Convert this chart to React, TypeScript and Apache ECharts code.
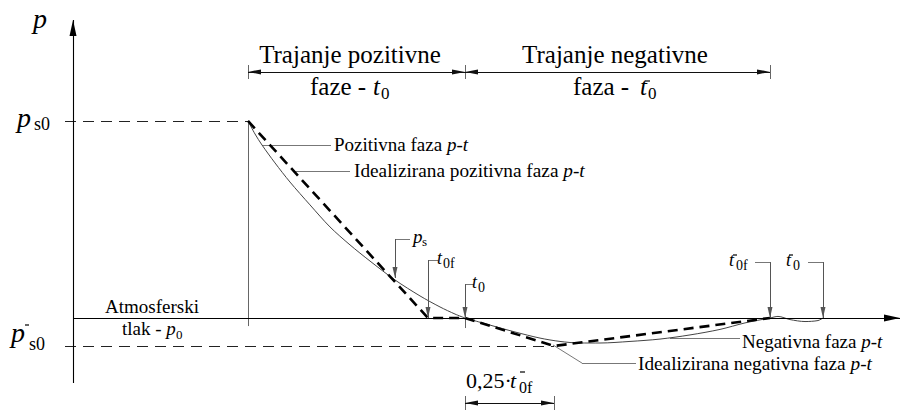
import React, { useEffect, useRef } from 'react';
import * as echarts from 'echarts';

// ---- key values (time in arbitrary units, pressure relative to p_s0) ----
const T_PEAK = 17.5;
const T_0F = 35.5;
const T_0 = 39.2;
const T_NEG_PEAK = 48.1;
const T_0F_NEG = 69.7;
const T_0_NEG = 75.0;
const P_S0 = 1.0;
const P_S0_NEG = -0.142;

// real positive phase p-t
const posCurveT = [17.5, 18.2, 18.9, 20.2, 21.7, 23.7, 25.7, 27.7, 29.7, 32.2, 34.7, 36.7, 38.2, 39.2];
const posCurveP = [1.0, 0.934, 0.878, 0.787, 0.69, 0.574, 0.462, 0.371, 0.289, 0.193, 0.112, 0.056, 0.02, 0];
// real negative phase p-t (with small tail)
const negCurveT = [39.2, 41.7, 44.2, 46.7, 48.7, 50.7, 52.7, 55.7, 58.7, 61.7, 64.7, 67.2, 69.7, 70.5, 71.7, 73.2, 74.5, 75.0];
const negCurveP = [0, -0.036, -0.071, -0.102, -0.119, -0.127, -0.127, -0.119, -0.107, -0.086, -0.058, -0.025, 0, 0.008, -0.008, -0.018, -0.013, 0];
// idealised phases
const idealPosT = [T_PEAK, T_0F, T_0];
const idealPosP = [P_S0, 0, 0];
const idealNegT = [T_0, T_NEG_PEAK, T_0F_NEG];
const idealNegP = [0, P_S0_NEG, 0];

// axis extents
const X_MIN = -7.3;
const X_MAX = 82.9;
const Y_MIN = -0.467;
const Y_MAX = 1.614;
const AXIS_T_END = 82.7;
const AXIS_P_TOP = 1.513;
const AXIS_P_BOTTOM = -0.33;
const REF_T_START = -0.8;
const DIM_TOP_P = 1.249;
const DIM_BOTTOM_P = -0.432;

const FONT = 'Liberation Serif, Times New Roman, serif';
const ARROW = 'path://M5,0 L5,0 M5,24 L10,48 L0,48 Z';

const zip = (a: number[], b: number[]) => a.map((v, i) => [v, b[i]]);
const seg = (a: number[], b: number[]) => ({ coords: [a, b] });

function txt(x: number, baseline: number, s: string, size: number, italic = false, align = 'left') {
  return {
    type: 'text',
    x,
    y: baseline - 0.34 * size,
    silent: true,
    z: 100,
    style: {
      text: s,
      font: `${italic ? 'italic ' : ''}${size}px ${FONT}`,
      fill: '#000',
      align,
      textAlign: align,
      verticalAlign: 'middle',
      textVerticalAlign: 'middle',
    },
  };
}

function richTxt(x: number, baseline: number, plain: string, ital: string, size: number) {
  return {
    type: 'text',
    x,
    y: baseline - 0.34 * size,
    silent: true,
    z: 100,
    style: {
      text: `{r|${plain}}{i|${ital}}`,
      font: `${size}px ${FONT}`,
      fill: '#000',
      align: 'left',
      textAlign: 'left',
      verticalAlign: 'middle',
      textVerticalAlign: 'middle',
      rich: {
        r: { fontSize: size, fontFamily: FONT, fill: '#000', color: '#000' },
        i: { fontSize: size, fontFamily: FONT, fontStyle: 'italic', fill: '#000', color: '#000' },
      },
    },
  };
}

// small superscript minus bar
function bar(x: number, y: number, w: number) {
  return {
    type: 'line',
    silent: true,
    z: 100,
    shape: { x1: x, y1: y, x2: x + w, y2: y },
    style: { stroke: '#000', lineWidth: 1.2 },
  };
}

export default function App() {
  const ref = useRef<HTMLDivElement>(null);

  useEffect(() => {
    document.body.style.margin = '0';
    if (!ref.current) return;
    const chart = echarts.init(ref.current, null, { renderer: 'svg' });

    const plainLines = (data: any[], color: string, width: number, type: any = 'solid', z = 1) => ({
      type: 'lines',
      coordinateSystem: 'cartesian2d',
      silent: true,
      z,
      symbol: ['none', 'none'],
      lineStyle: { color, width, type, opacity: 1, curveness: 0 },
      data,
    });

    const arrowLines = (data: any[], color: string, width: number, both: boolean, size: number[], z = 4) => ({
      type: 'lines',
      coordinateSystem: 'cartesian2d',
      silent: true,
      z,
      symbol: [both ? ARROW : 'none', ARROW],
      symbolSize: [size, size],
      lineStyle: { color, width, opacity: 1, curveness: 0 },
      data,
    });

    const graphics = [
      // axis labels
      txt(33, 28, 'p', 28, true),
      txt(17, 127, 'p', 28, true),
      txt(34, 130, 's0', 18),
      txt(11, 342, 'p', 28, true),
      bar(25, 325, 4),
      txt(29, 350, 's0', 18),
      // duration headers
      txt(350, 63, 'Trajanje pozitivne', 25, false, 'center'),
      txt(310, 95, 'faze - ', 25),
      txt(373, 95, 't', 25, true),
      txt(381, 99, '0', 17),
      txt(615, 63, 'Trajanje negativne', 25, false, 'center'),
      txt(573, 95, 'faza - ', 25),
      txt(640, 95, 't', 25, true),
      bar(645, 81, 5),
      txt(648, 99, '0', 17),
      // curve labels
      richTxt(334, 151, 'Pozitivna faza ', 'p-t', 19),
      richTxt(354, 177, 'Idealizirana pozitivna faza ', 'p-t', 19.3),
      richTxt(742, 348, 'Negativna faza ', 'p-t', 19),
      richTxt(638, 370, 'Idealizirana negativna faza ', 'p-t', 19.3),
      // atmospheric pressure
      txt(105, 313, 'Atmosferski', 19),
      richTxt(122, 335, 'tlak - ', 'p', 19),
      txt(176, 339, '0', 13),
      // point labels
      txt(413, 243, 'p', 19, true),
      txt(422, 246, 's', 13),
      txt(437, 264, 't', 18, true),
      txt(443, 268, '0f', 14),
      txt(472, 288, 't', 18, true),
      txt(478, 292, '0', 14),
      txt(729, 266, 't', 18, true),
      bar(733, 255, 4),
      txt(736, 270, '0f', 14),
      txt(786, 266, 't', 18, true),
      bar(789, 255, 4),
      txt(793, 270, '0', 14),
      // 0,25 t0f-
      txt(466, 388, '0,25·', 22),
      txt(510, 388, 't', 22, true),
      bar(520, 372, 5),
      txt(519, 393, '0f', 16),
    ];

    chart.setOption({
      animation: false,
      backgroundColor: '#ffffff',
      grid: { left: 0, right: 0, top: 0, bottom: 0, containLabel: false, outerBoundsMode: 'none' },
      xAxis: { type: 'value', min: X_MIN, max: X_MAX, show: false },
      yAxis: { type: 'value', min: Y_MIN, max: Y_MAX, show: false },
      graphic: graphics,
      series: [
        // axes with arrows
        arrowLines(
          [seg([0, AXIS_P_BOTTOM], [0, AXIS_P_TOP]), seg([0, 0], [AXIS_T_END, 0])],
          '#000', 1.1, false, [7, 32], 5
        ),
        // reference dashed levels
        plainLines(
          [seg([REF_T_START, P_S0], [T_PEAK, P_S0]), seg([REF_T_START, P_S0_NEG], [T_NEG_PEAK, P_S0_NEG])],
          '#222', 1, [11, 7]
        ),
        // vertical at arrival and ticks
        plainLines(
          [
            seg([T_PEAK, P_S0], [T_PEAK, -0.041]),
            seg([T_PEAK, 1.213], [T_PEAK, 1.284]),
            seg([T_0, 1.213], [T_0, 1.284]),
            seg([T_0F_NEG, 1.213], [T_0F_NEG, 1.284]),
            seg([T_0, -0.396], [T_0, -0.467]),
            seg([T_NEG_PEAK, -0.396], [T_NEG_PEAK, -0.467]),
            seg([T_0, 0], [T_0, -0.051]),
          ],
          '#666', 1
        ),
        // dimension lines
        arrowLines(
          [
            seg([T_PEAK, DIM_TOP_P], [T_0, DIM_TOP_P]),
            seg([T_0, DIM_TOP_P], [T_0F_NEG, DIM_TOP_P]),
            seg([T_0, DIM_BOTTOM_P], [T_NEG_PEAK, DIM_BOTTOM_P]),
          ],
          '#111', 1, true, [5, 26]
        ),
        // label leaders (plain)
        plainLines(
          [
            seg([32.2, 0.401], [33.7, 0.401]),
            seg([T_0F, 0.294], [36.5, 0.294]),
            seg([T_0, 0.172], [40.1, 0.172]),
            seg([68.2, 0.284], [T_0F_NEG, 0.284]),
            seg([73.5, 0.284], [T_0_NEG, 0.284]),
            seg([18.9, 0.878], [25.8, 0.878]),
            seg([22.0, 0.746], [27.7, 0.746]),
            seg([59.7, -0.102], [66.7, -0.102]),
            seg([48.0, -0.137], [50.9, -0.229]),
            seg([50.9, -0.229], [56.3, -0.229]),
          ],
          '#777', 1
        ),
        // label leaders with arrows
        arrowLines(
          [
            seg([32.2, 0.401], [32.2, 0.203]),
            seg([T_0F, 0.294], [T_0F, 0]),
            seg([T_0, 0.172], [T_0, 0]),
            seg([T_0F_NEG, 0.284], [T_0F_NEG, 0]),
            seg([T_0_NEG, 0.284], [T_0_NEG, 0]),
          ],
          '#555', 1, false, [5, 22]
        ),
        // real curves
        {
          type: 'line', silent: true, z: 2, symbol: 'none', showSymbol: false, smooth: 0.3,
          lineStyle: { color: '#444', width: 1 }, data: zip(posCurveT, posCurveP),
        },
        {
          type: 'line', silent: true, z: 2, symbol: 'none', showSymbol: false, smooth: 0.3,
          lineStyle: { color: '#444', width: 1 }, data: zip(negCurveT, negCurveP),
        },
        // idealised
        {
          type: 'line', silent: true, z: 3, symbol: 'none', showSymbol: false,
          lineStyle: { color: '#000', width: 2.6, type: [10, 6] }, data: zip(idealPosT, idealPosP),
        },
        {
          type: 'line', silent: true, z: 3, symbol: 'none', showSymbol: false,
          lineStyle: { color: '#000', width: 2.6, type: [10, 6] }, data: zip(idealNegT, idealNegP),
        },
      ],
    });

    return () => chart.dispose();
  }, []);

  return <div ref={ref} style={{ width: 902, height: 410 }} />;
}
